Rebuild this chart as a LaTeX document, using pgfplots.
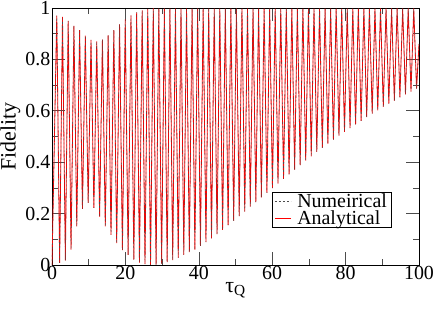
\documentclass[border=0pt]{standalone}
\usepackage{fontspec}
\setmainfont{Liberation Serif}
\newfontfamily\tms{Liberation Serif}
\usepackage{pgfplots}
\usepackage{pgfplotstable}
\pgfplotsset{compat=1.18}
\pgfplotstableread{
t F
0 0
1.30 0.970
2.08 0.008
2.86 0.965
3.64 0.018
4.41 0.950
5.19 0.060
5.97 0.930
6.75 0.150
7.52 0.914
8.30 0.218
9.08 0.892
9.86 0.242
10.63 0.876
11.41 0.222
12.19 0.870
12.97 0.188
13.74 0.877
14.52 0.150
15.30 0.893
16.08 0.117
16.85 0.914
17.63 0.085
18.41 0.936
19.19 0.058
19.96 0.956
20.74 0.039
21.52 0.971
22.30 0.021
23.07 0.983
23.83 0.009
24.58 0.991
25.34 0.003
26.09 0.996
26.85 0.000
27.60 0.999
28.36 0.001
29.11 0.998
29.87 0.005
30.62 0.998
31.38 0.011
32.13 0.998
32.89 0.019
33.64 0.998
34.40 0.028
35.15 0.998
35.91 0.039
36.66 0.998
37.42 0.050
38.17 0.998
38.93 0.060
39.68 0.998
40.44 0.074
41.19 0.998
41.95 0.089
42.70 0.998
43.46 0.104
44.21 0.998
44.97 0.120
45.72 0.998
46.48 0.137
47.23 0.998
47.99 0.155
48.74 0.998
49.50 0.172
50.25 0.998
51.01 0.190
51.76 0.998
52.52 0.208
53.27 0.998
54.03 0.227
54.78 0.998
55.54 0.245
56.29 0.998
57.05 0.263
57.80 0.998
58.56 0.281
59.31 0.998
60.07 0.299
60.82 0.998
61.58 0.317
62.33 0.998
63.09 0.335
63.84 0.998
64.60 0.353
65.35 0.998
66.11 0.371
66.86 0.998
67.62 0.389
68.37 0.998
69.13 0.406
69.88 0.998
70.64 0.423
71.39 0.998
72.15 0.440
72.90 0.998
73.66 0.456
74.41 0.998
75.17 0.472
75.92 0.998
76.68 0.488
77.43 0.998
78.19 0.503
78.94 0.998
79.70 0.518
80.45 0.998
81.21 0.533
81.96 0.998
82.72 0.547
83.47 0.998
84.23 0.561
84.98 0.998
85.74 0.575
86.49 0.998
87.25 0.589
88.00 0.998
88.76 0.602
89.51 0.998
90.27 0.615
91.02 0.998
91.78 0.628
92.53 0.998
93.29 0.640
94.04 0.998
94.80 0.652
95.55 0.998
96.31 0.664
97.06 0.998
97.82 0.675
98.57 0.998
99.33 0.686
100.00 0.860
}\fidelity
\begin{document}
\begin{tikzpicture}
\begin{axis}[
  at={(0,0)}, anchor=south west,
  scale only axis, width=367bp, height=257bp,
  xmin=0, xmax=100, ymin=0, ymax=1,
  xtick={0,20,...,100}, ytick={0,0.2,0.4,0.6,0.8,1},
  minor x tick num=1, minor y tick num=1,
  tick align=inside,
  major tick length=13bp, minor tick length=6bp,
  every tick/.style={black!70, line width=0.6bp},
  axis line style={line width=0.8bp},
  /pgf/number format/assume math mode=true,
  tick label style={font=\tms\fontsize{20}{20}\selectfont, inner sep=1.5bp},
  label style={font=\tms\fontsize{22}{22}\selectfont},
  xlabel={τ\textsubscript{Q}},
  ylabel={Fidelity},
  xlabel style={yshift=3bp},
  reverse legend,
  legend cell align=left,
  legend style={at={(rel axis cs:0.600,0.285)}, anchor=north west,
    font=\tms\fontsize{20}{20}\selectfont, draw=black, line width=0.6bp,
    inner xsep=2bp, inner ysep=1.5bp, row sep=0.5bp, column sep=4bp,
    nodes={inner xsep=2bp, inner ysep=0.3bp}},
  legend image code/.code={\draw[#1] (0bp,0bp) -- (16bp,0bp);},
]
\addplot[red, line width=0.8bp] table[x=t, y=F] {\fidelity};
\addlegendentry{Analytical}
\addplot[black!70, line width=0.4bp, dash pattern=on 2bp off 2bp] table[x=t, y=F] {\fidelity};
\addlegendentry{Numeirical}
\end{axis}
\pgfresetboundingbox
\useasboundingbox (-52bp,-44bp) rectangle (384bp,265bp);
\end{tikzpicture}
\end{document}
